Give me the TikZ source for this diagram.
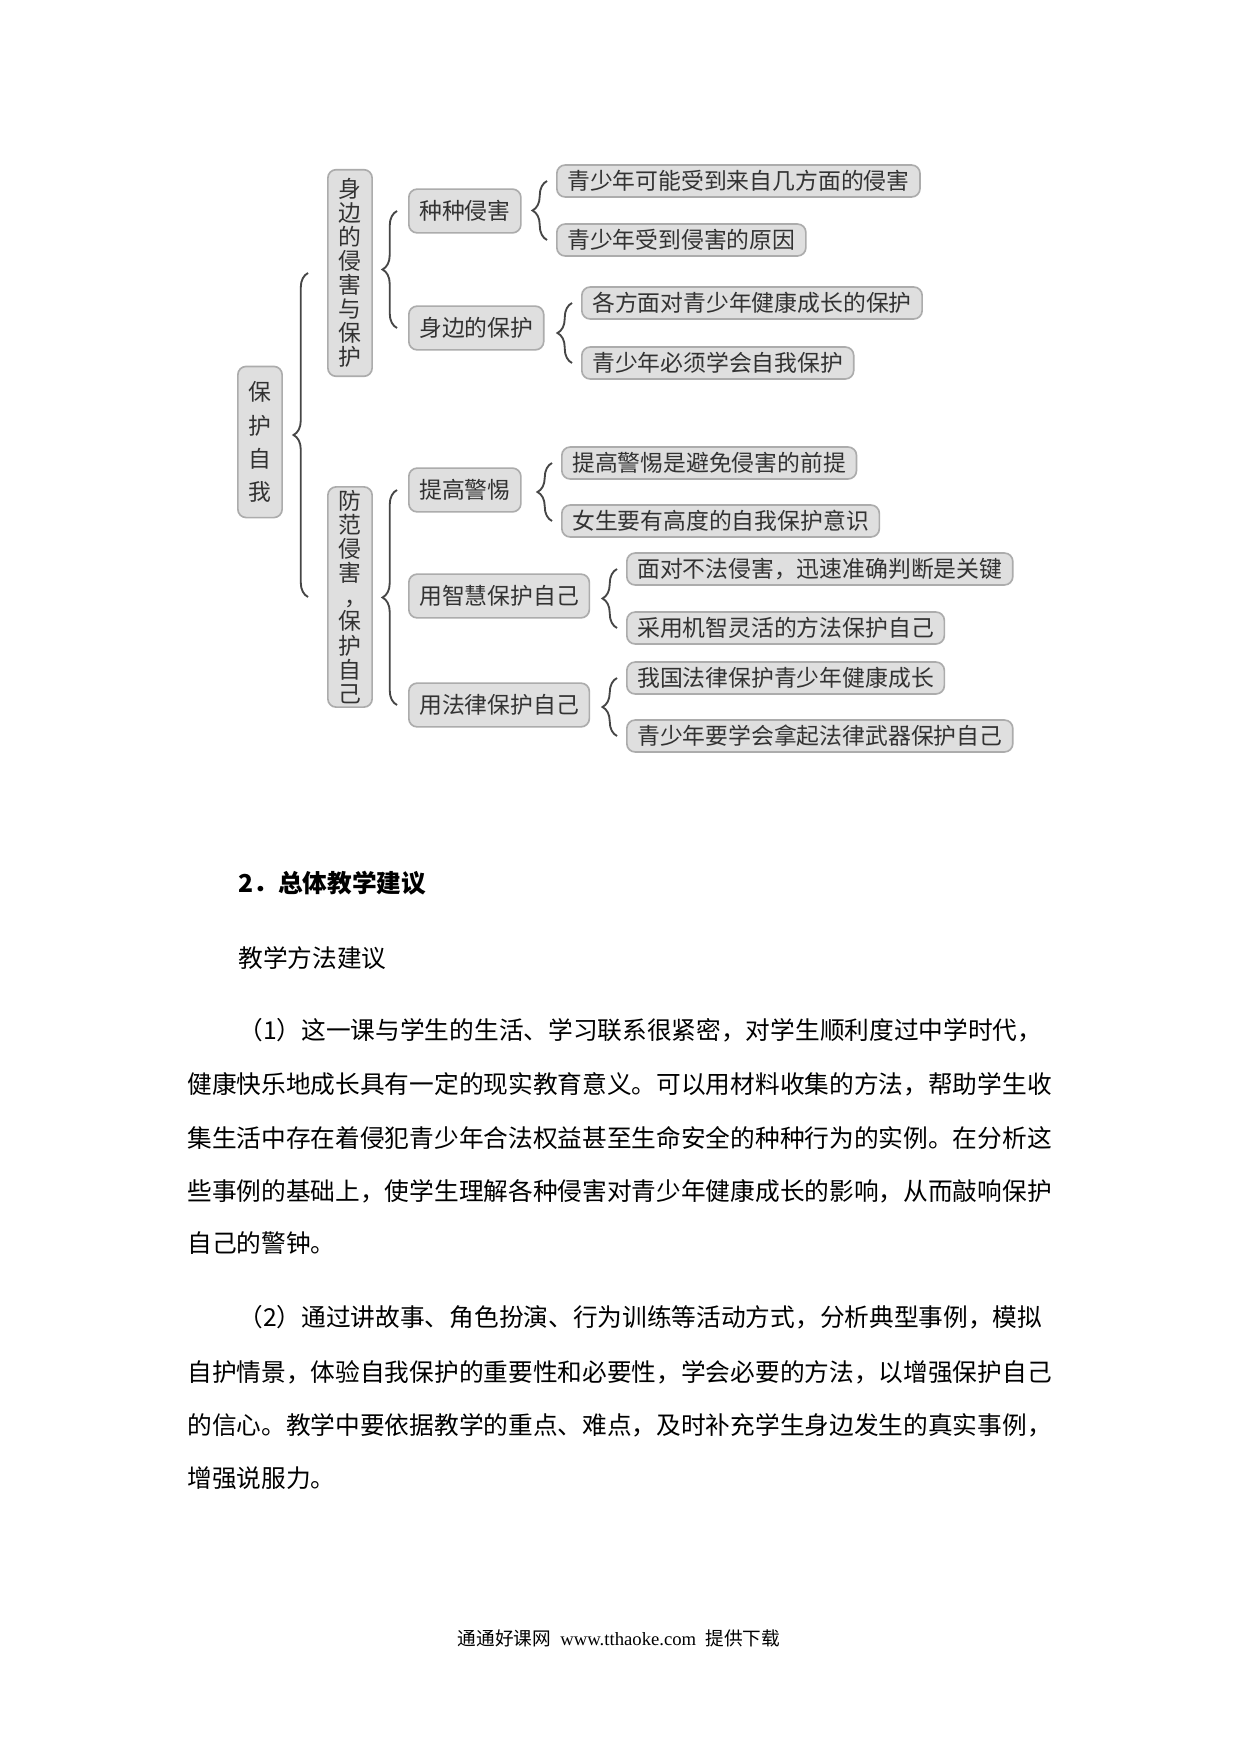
\documentclass[tikz,border=0pt]{standalone}
\usepackage{fontspec}
\setmainfont{Liberation Serif}
\newfontfamily\cjk{Noto Sans CJK SC}
\usetikzlibrary{calc, decorations.pathreplacing}
\definecolor{boxfill}{RGB}{223,223,223}
\definecolor{boxline}{RGB}{172,172,172}
\definecolor{inkgray}{RGB}{50,50,50}
\definecolor{bracegray}{RGB}{70,70,70}
\tikzset{
  rootbox/.style={rectangle, draw=boxline, fill=boxfill, rounded corners=4pt,
    line width=0.8pt, text=inkgray, align=center, inner sep=0pt,
    minimum width=0.75cm, font=\cjk\fontsize{11}{16}\selectfont},
  sidebox/.style={rootbox, font=\cjk\fontsize{11}{11.6}\selectfont},
  topicbox/.style={rectangle, draw=boxline, fill=boxfill, rounded corners=4pt,
    line width=0.8pt, text=inkgray, anchor=west, inner xsep=5pt, inner ysep=0pt,
    minimum height=0.74cm, font=\cjk\fontsize{11}{13}\selectfont},
  leafbox/.style={topicbox, minimum height=0.54cm},
  bracket/.style={decorate, decoration={brace, amplitude=7pt},
    draw=bracegray, line width=0.9pt},
  bodyline/.style={anchor=west, inner sep=0pt, font=\cjk\fontsize{11.9}{14}\selectfont}
}
\begin{document}
\begin{tikzpicture}[x=0.016935cm, y=-0.016935cm]
  \useasboundingbox[fill=white] (0,0) rectangle (1240,1754);

  % Root and first level
  \node[rootbox, minimum height=2.56cm] (self) at (260,442) {保\\护\\自\\我};
  \node[sidebox, minimum height=3.5cm] (near) at (350,273) {身\\边\\的\\侵\\害\\与\\保\\护};
  \node[sidebox, minimum height=3.73cm] (defend) at (350,597)
    {防\\范\\侵\\害\\\makebox[1em][c]{\kern0.5em ，}\\保\\护\\自\\己};

  % Second level
  \node[topicbox] (harm) at (408,211) {种种侵害};
  \node[topicbox] (nearby) at (408,328) {身边的保护};
  \node[topicbox] (alert) at (408,490) {提高警惕};
  \node[topicbox] (wisdom) at (408,596) {用智慧保护自己};
  \node[topicbox] (law) at (408,705) {用法律保护自己};

  % Leaves
  \node[leafbox] (harmWhere) at (556,181) {青少年可能受到来自几方面的侵害};
  \node[leafbox] (harmWhy) at (556,240) {青少年受到侵害的原因};
  \node[leafbox] (nearCare) at (581,303) {各方面对青少年健康成长的保护};
  \node[leafbox] (nearSelf) at (581,363) {青少年必须学会自我保护};
  \node[leafbox] (alertKey) at (561,463) {提高警惕是避免侵害的前提};
  \node[leafbox] (alertGirl) at (561,521) {女生要有高度的自我保护意识};
  \node[leafbox] (wisdomJudge) at (626,569) {面对不法侵害，迅速准确判断是关键};
  \node[leafbox] (wisdomWay) at (626,628) {采用机智灵活的方法保护自己};
  \node[leafbox] (lawGuard) at (626,678) {我国法律保护青少年健康成长};
  \node[leafbox] (lawArm) at (626,736) {青少年要学会拿起法律武器保护自己};

  % Braces
  \draw[bracket] ($(defend.west)+(-19,0)$) -- ($(near.west)+(-19,0)$);
  \draw[bracket] ($(nearby.west)+(-11,0)$) -- ($(harm.west)+(-11,0)$);
  \draw[bracket] ($(law.west)+(-11,0)$) -- ($(alert.west)+(-11,0)$);
  \draw[bracket] ($(harmWhy.west)+(-9,0)$) -- ($(harmWhere.west)+(-9,0)$);
  \draw[bracket] ($(nearSelf.west)+(-9,0)$) -- ($(nearCare.west)+(-9,0)$);
  \draw[bracket] ($(alertGirl.west)+(-9,0)$) -- ($(alertKey.west)+(-9,0)$);
  \draw[bracket] ($(wisdomWay.west)+(-9,0)$) -- ($(wisdomJudge.west)+(-9,0)$);
  \draw[bracket] ($(lawArm.west)+(-9,0)$) -- ($(lawGuard.west)+(-9,0)$);

  % Text below
  \node[bodyline, font=\cjk\bfseries\fontsize{11.9}{14}\selectfont] (head) at (238,883) {2．总体教学建议};
  \node[bodyline] (method) at (238,958) {教学方法建议};

  \node[bodyline] (pA1) at (238,1030) {（1）这一课与学生的生活、学习联系很紧密，对学生顺利度过中学时代，};
  \node[bodyline] (pA2) at (187,1084) {健康快乐地成长具有一定的现实教育意义。可以用材料收集的方法，帮助学生收};
  \node[bodyline] (pA3) at (187,1138) {集生活中存在着侵犯青少年合法权益甚至生命安全的种种行为的实例。在分析这};
  \node[bodyline] (pA4) at (187,1191) {些事例的基础上，使学生理解各种侵害对青少年健康成长的影响，从而敲响保护};
  \node[bodyline] (pA5) at (187,1243) {自己的警钟。};

  \node[bodyline] (pB1) at (238,1317) {（2）通过讲故事、角色扮演、行为训练等活动方式，分析典型事例，模拟};
  \node[bodyline] (pB2) at (187,1372) {自护情景，体验自我保护的重要性和必要性，学会必要的方法，以增强保护自己};
  \node[bodyline] (pB3) at (187,1425) {的信心。教学中要依据教学的重点、难点，及时补充学生身边发生的真实事例，};
  \node[bodyline] (pB4) at (187,1478) {增强说服力。};

  % Footer
  \node[font=\fontsize{9}{11}\selectfont, inner sep=0pt] (foot) at (619,1638)
    {{\cjk 通通好课网}\ \ www.tthaoke.com\ \ {\cjk 提供下载}};
\end{tikzpicture}
\end{document}
